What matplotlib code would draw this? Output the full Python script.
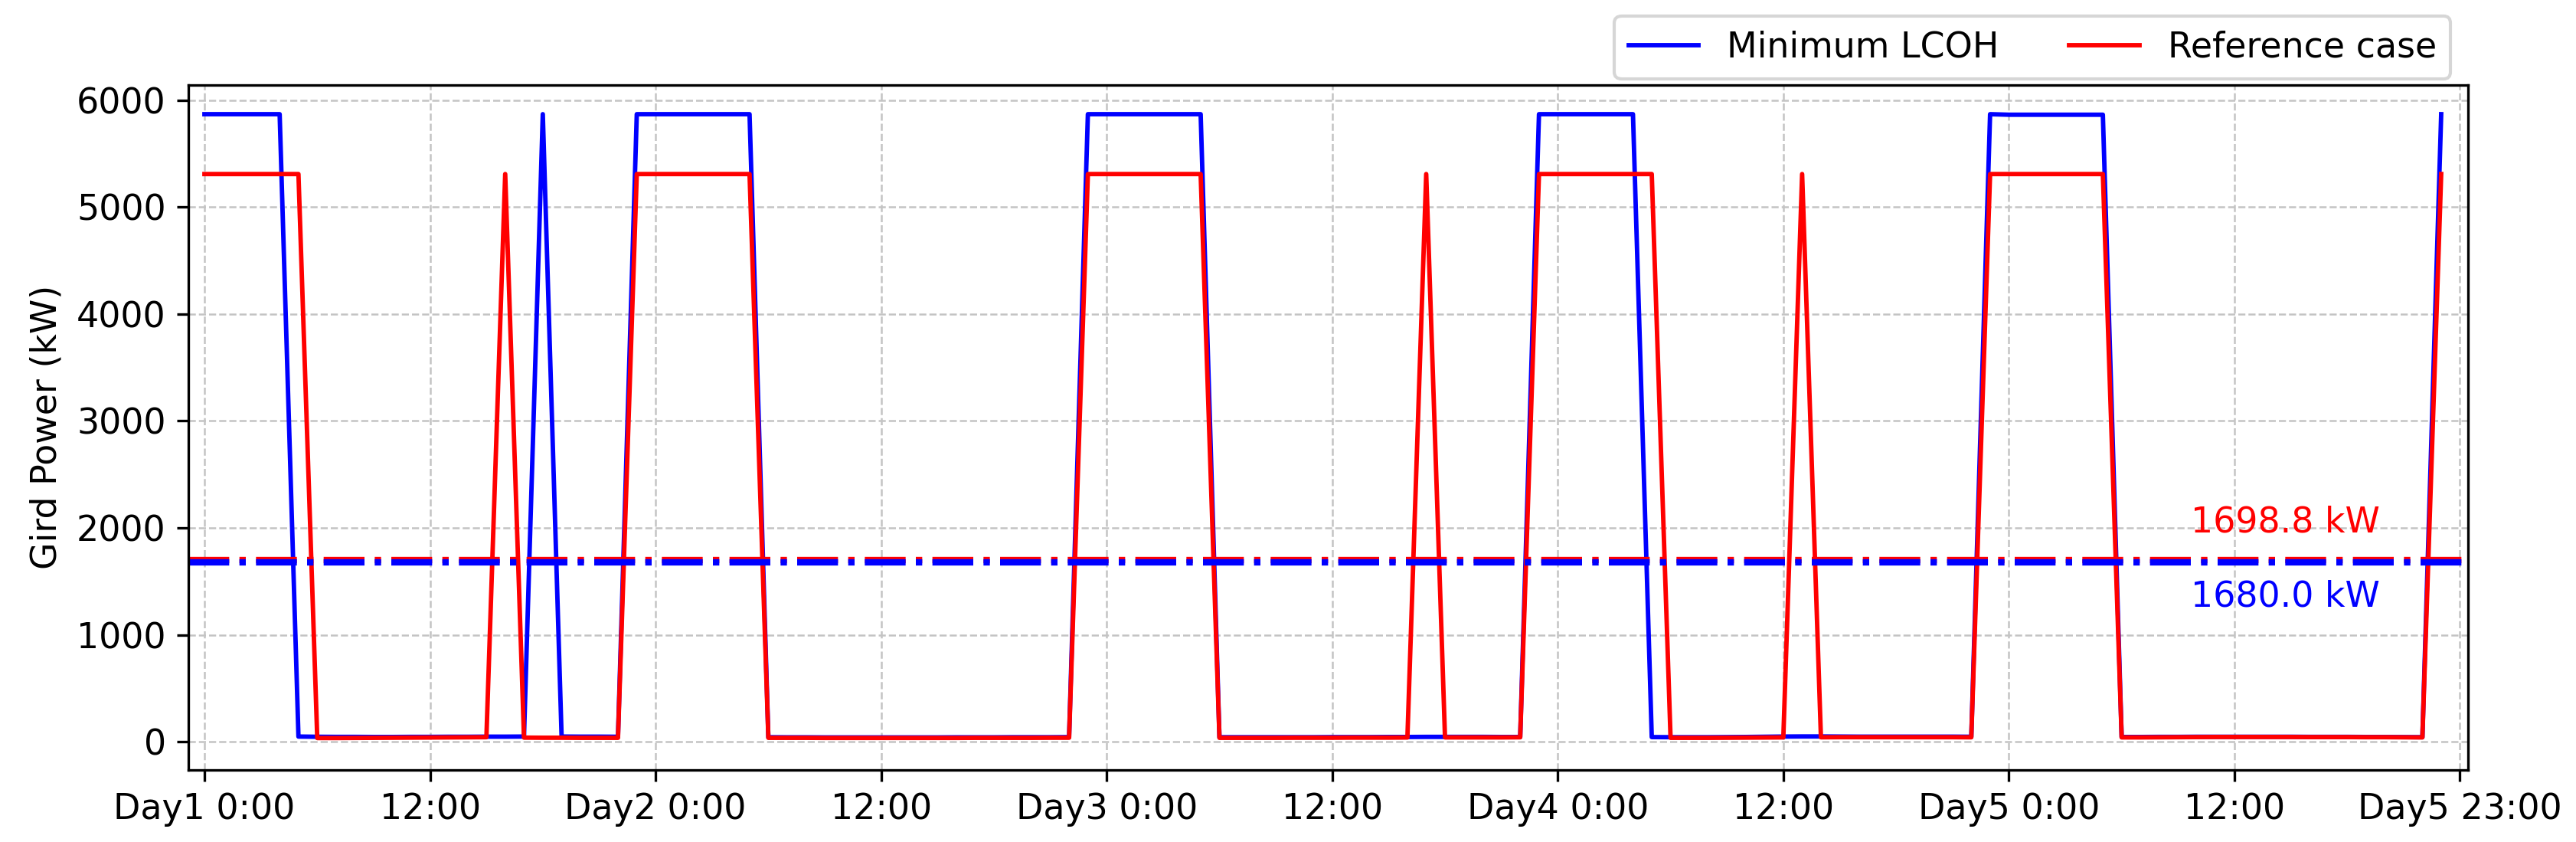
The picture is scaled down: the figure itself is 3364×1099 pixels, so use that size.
import matplotlib
matplotlib.use("Agg")
import matplotlib.pyplot as plt

# hourly grid power (kW), Day1 0:00 .. Day5 23:00
hours = list(range(120))

min_lcoh = [
    5870, 5870, 5870, 5870, 5870, 48, 46, 45, 45, 44, 44, 45, 45, 46, 46, 47, 47, 48, 5870, 48, 47, 47, 46, 5870,
    5870, 5870, 5870, 5870, 5870, 5870, 42, 41, 41, 40, 40, 40, 40, 40, 40, 40, 41, 41, 41, 42, 42, 42, 43, 5870,
    5870, 5870, 5870, 5870, 5870, 5870, 42, 42, 42, 42, 42, 42, 43, 43, 43, 44, 44, 45, 45, 45, 45, 44, 44, 5870,
    5870, 5870, 5870, 5870, 5870, 43, 42, 42, 42, 43, 44, 46, 48, 49, 49, 48, 47, 47, 47, 47, 47, 47, 46, 5870,
    5865, 5865, 5865, 5865, 5865, 5865, 44, 44, 45, 45, 46, 46, 46, 46, 46, 46, 45, 45, 45, 44, 44, 43, 42, 5870,
]

reference = [
    5310, 5310, 5310, 5310, 5310, 5310, 34, 34, 35, 36, 37, 38, 39, 40, 41, 42, 5310, 38, 37, 37, 36, 36, 36, 5310,
    5310, 5310, 5310, 5310, 5310, 5310, 36, 36, 36, 35, 35, 35, 35, 35, 35, 35, 35, 36, 36, 36, 36, 37, 37, 5310,
    5310, 5310, 5310, 5310, 5310, 5310, 36, 36, 36, 36, 37, 37, 37, 38, 38, 38, 39, 5310, 40, 40, 40, 40, 41, 5310,
    5310, 5310, 5310, 5310, 5310, 5310, 36, 36, 36, 37, 38, 39, 40, 5310, 41, 42, 42, 42, 42, 42, 42, 42, 41, 5310,
    5310, 5310, 5310, 5310, 5310, 5310, 40, 40, 41, 42, 43, 44, 44, 44, 44, 44, 43, 43, 43, 42, 42, 41, 40, 5310,
]

avg_min_lcoh = 1680.0
avg_reference = 1698.8

tick_pos = [0, 12, 24, 36, 48, 60, 72, 84, 96, 108, 120]
tick_labels = ["Day1 0:00", "12:00", "Day2 0:00", "12:00", "Day3 0:00", "12:00",
               "Day4 0:00", "12:00", "Day5 0:00", "12:00", "Day5 23:00"]

plt.rcParams["font.size"] = 11

fig = plt.figure(figsize=(3364 / 300, 1099 / 300), dpi=300)
ax = fig.add_axes([0.0731, 0.0855, 0.8850, 0.8138])

ax.plot(hours, min_lcoh, color="blue", linewidth=1.4, label="Minimum LCOH")
ax.plot(hours, reference, color="red", linewidth=1.4, label="Reference case")

ax.axhline(avg_reference, color="red", linestyle="-.", linewidth=2.0)
ax.axhline(avg_min_lcoh, color="blue", linestyle="-.", linewidth=2.0)

ax.text(110.7, 1960, f"{avg_reference:.1f} kW", color="red", ha="center", va="baseline")
ax.text(110.7, 1266, f"{avg_min_lcoh:.1f} kW", color="blue", ha="center", va="baseline")

ax.set_xlim(-0.86, 120.43)
ax.set_ylim(-265, 6145)
ax.set_xticks(tick_pos)
ax.set_xticklabels(tick_labels)
ax.set_yticks([0, 1000, 2000, 3000, 4000, 5000, 6000])
ax.set_ylabel("Gird Power (kW)")

ax.grid(True, linestyle="--", linewidth=0.6, color="#c4c4c4")
ax.set_axisbelow(True)

ax.legend(loc="lower right", bbox_to_anchor=(0.9923, 1.0086), ncol=2,
          borderaxespad=0, frameon=True)

fig.savefig("out.png", dpi=300)
